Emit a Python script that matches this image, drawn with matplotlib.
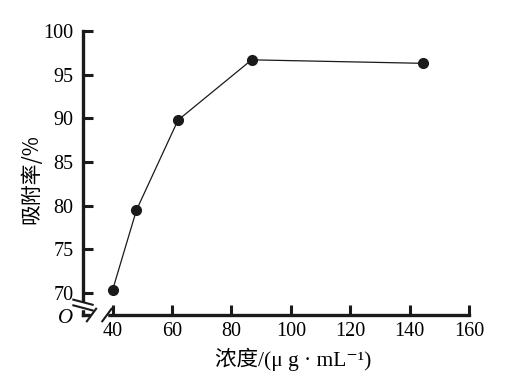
import matplotlib
matplotlib.use('Agg')
import matplotlib.pyplot as plt
from matplotlib.lines import Line2D
from matplotlib.patches import Rectangle

# data
conc = [40, 48, 62, 86.8, 144.5]
adsorb = [70.4, 79.5, 89.8, 96.7, 96.3]
xticks = [40, 60, 80, 100, 120, 140, 160]
yticks = [70, 75, 80, 85, 90, 95, 100]

fams = ['Liberation Serif', 'Noto Sans CJK SC', 'DejaVu Serif']
plt.rcParams['font.family'] = fams

fig = plt.figure(figsize=(5.22, 3.79), dpi=100)
ax = fig.add_axes([83/522, 1-315/379, 386/522, 284/379])

ax.plot(conc, adsorb, color='#1a1a1a', lw=0.9, marker='o', ms=7, mfc='#1a1a1a', mec='#1a1a1a')

ax.set_xlim(30, 160)
ax.set_ylim(67.5, 100)
ax.set_xticks(xticks)
ax.set_yticks(yticks)
ax.tick_params(direction='in', length=7, width=2.2, labelsize=14.5, color='#1a1a1a')
ax.tick_params(axis='y', pad=7)
ax.tick_params(axis='x', pad=5)
for s in ['top', 'right']:
    ax.spines[s].set_visible(False)
for s in ['left', 'bottom']:
    ax.spines[s].set_linewidth(2.4)
    ax.spines[s].set_color('#1a1a1a')

ax.set_xlabel('浓度/(μ g · mL⁻¹)', fontsize=15.5, family=fams)
ax.set_ylabel('吸附率/%', fontsize=15,
              family=['Noto Sans CJK SC', 'Liberation Serif'])
ax.xaxis.set_label_coords(0.545, -0.115)
ax.yaxis.set_label_coords(-0.104, 0.48)

# axis breaks
tr = ax.transAxes
ax.add_patch(Rectangle((-0.02, 0.02), 0.04, 0.022, transform=tr, color='white', clip_on=False, zorder=5))
ax.add_patch(Rectangle((0.022, -0.03), 0.04, 0.06, transform=tr, color='white', clip_on=False, zorder=5))
for dy in [0.022, 0.042]:
    ax.add_line(Line2D([-0.025, 0.025], [dy + 0.012, dy - 0.006], transform=tr, color='#1a1a1a',
                       lw=1.5, clip_on=False, zorder=6))
for dx in [0.022, 0.062]:
    ax.add_line(Line2D([dx - 0.012, dx + 0.012], [-0.022, 0.022], transform=tr, color='#1a1a1a',
                       lw=1.5, clip_on=False, zorder=6))

ax.text(-0.045, -0.012, 'O', transform=tr, fontsize=15, style='italic', ha='center', va='center')

fig.savefig('out.png', dpi=100)
